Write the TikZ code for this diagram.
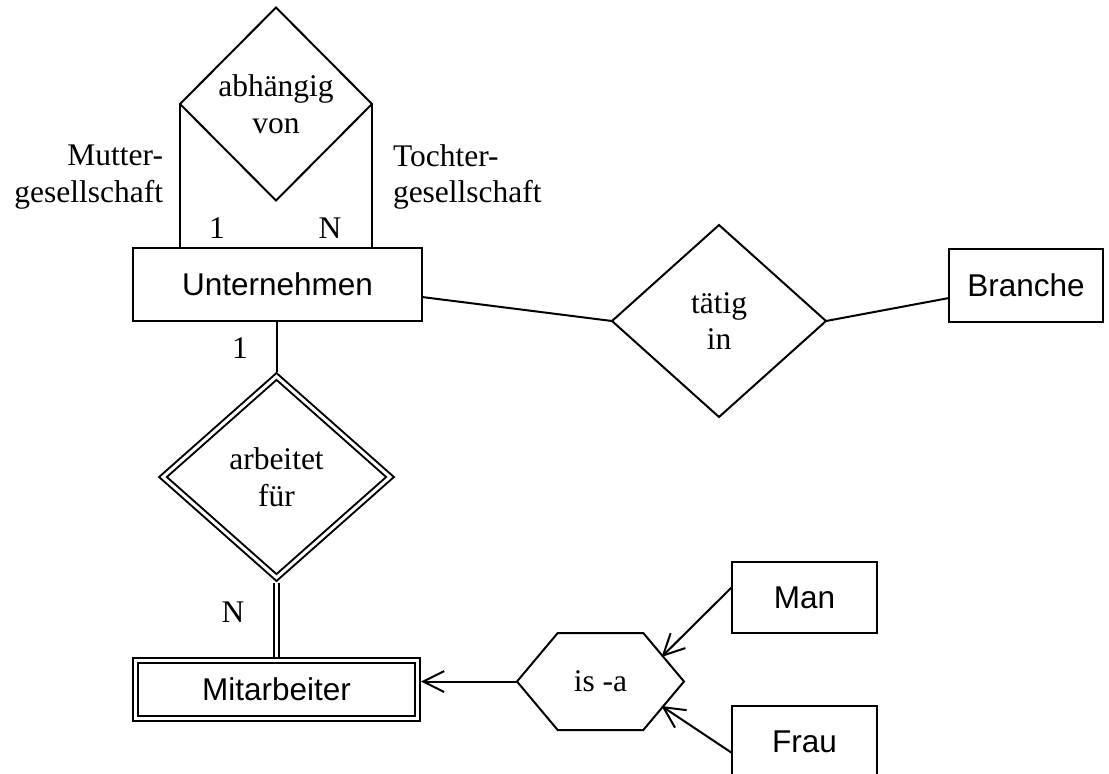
\documentclass[tikz,border=0pt]{standalone}
\usepackage{fontspec}
\setmainfont{Liberation Serif}
\setsansfont{Liberation Sans}
\usepackage{tikz}
\usetikzlibrary{arrows.meta, positioning, shapes.geometric, shapes.symbols}

\begin{document}
\begin{tikzpicture}[
        x=0.5pt, y=-0.5pt,
        line width=1pt,
        every node/.style={font=\fontsize{15.75}{18.3}\selectfont, inner sep=0pt, outer sep=0pt},
        entity/.style={rectangle, draw, font=\sffamily\fontsize{15.75}{18.3}\selectfont},
        rel/.style={diamond, draw, align=center},
        weak/.style={double, double distance=1.5pt, outer sep=1.75pt},
        isa/.style={signal, signal to=west and east, signal pointer angle=100, draw},
        >={Straight Barb[length=10.5pt, width=10.5pt]}
    ]
        \useasboundingbox (0,0) rectangle (1109,773);

        \node[entity, minimum width=144.5pt, minimum height=36.5pt] (unt) at (277.5,284.5) {Unternehmen};
        \node[rel, minimum width=96pt, minimum height=96.5pt] (abh) at (276,104) {abhängig\\von};
        \node[rel, minimum width=107pt, minimum height=96pt] (taetig) at (719,321) {tätig\\in};
        \node[entity, minimum width=77pt, minimum height=36.5pt, right=61.5pt of taetig, yshift=17.75pt] (branche) {Branche};

        \node[rel, weak, minimum width=115pt, minimum height=102pt] (arb) at (276.5,477) {arbeitet\\für};
        \node[entity, weak, minimum width=141pt, minimum height=29pt] (mit) at (276.5,689.5) {Mitarbeiter};

        \node[isa, minimum width=83.5pt, minimum height=48.5pt] (isa) at (600.5,681.5) {is -a};
        \node[entity, minimum width=72.5pt, minimum height=35.5pt] (man) at (804.5,597.5) {Man};
        \node[entity, minimum width=72.5pt, minimum height=35.5pt, below=36.5pt of man] (frau) {Frau};

        \node[align=right, anchor=east] (mutter) at (163,177) {Mutter-\\gesellschaft};
        \node[align=left, anchor=west] (tochter) at (393,177) {Tochter-\\gesellschaft};
        \node (card1) at (217,228) {1};
        \node (cardN) at (330,228) {N};
        \node (card2) at (240,348) {1};
        \node (card3) at (233,612) {N};

        \draw (abh.west) -- (abh.west |- unt.north);
        \draw (abh.east) -- (abh.east |- unt.north);

        \draw ([yshift=-6.25pt]unt.east) -- (taetig.west);
        \draw (taetig.east) -- ([yshift=-6.25pt]branche.west);

        \draw (arb.north |- unt.south) -- (arb.north);
        \draw[double, double distance=1.5pt] (arb.south) -- (mit.north);

        \draw[->] (isa.west) -- (isa.west -| mit.east);
        \draw[->] ([yshift=5.25pt]man.west) -- ([xshift=30.5pt, yshift=12.25pt]isa.center);
        \draw[->] ([yshift=-5.75pt]frau.west) -- ([xshift=30.5pt, yshift=-12.25pt]isa.center);

    \end{tikzpicture}
\end{document}
